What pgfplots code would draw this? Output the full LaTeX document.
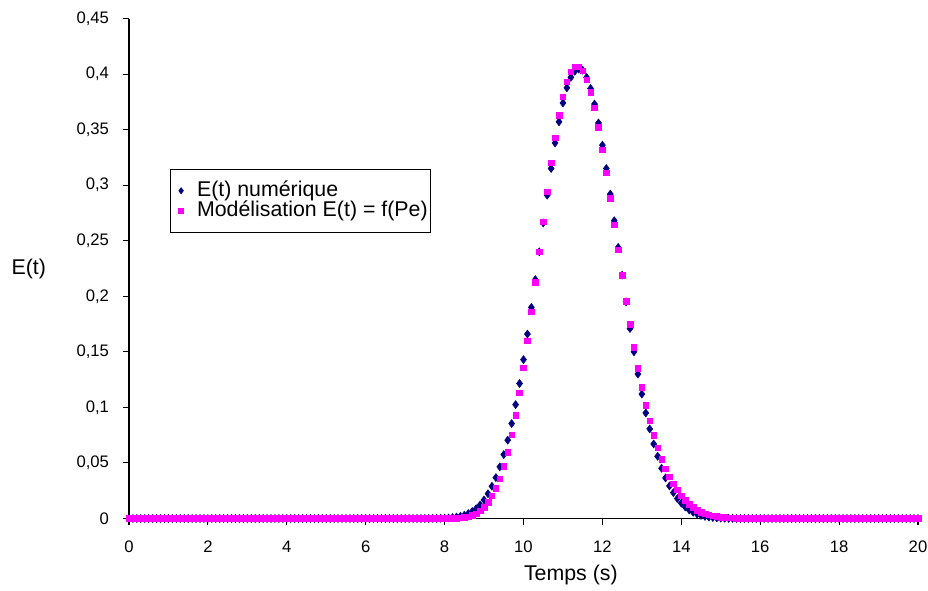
\documentclass[border=0pt]{standalone}
\usepackage{pgfplots}
\usepackage{pgfplotstable}
\usepackage{fontspec}
\setmainfont{Liberation Sans}
\pgfplotsset{compat=1.18}
\definecolor{navy}{RGB}{0,0,128}
\definecolor{mag}{RGB}{255,0,255}
\pgfplotstableread{
t num mod
0.0 0 0
0.1 0 0
0.2 0 0
0.3 0 0
0.4 0 0
0.5 0 0
0.6 0 0
0.7 0 0
0.8 0 0
0.9 0 0
1.0 0 0
1.1 0 0
1.2 0 0
1.3 0 0
1.4 0 0
1.5 0 0
1.6 0 0
1.7 0 0
1.8 0 0
1.9 0 0
2.0 0 0
2.1 0 0
2.2 0 0
2.3 0 0
2.4 0 0
2.5 0 0
2.6 0 0
2.7 0 0
2.8 0 0
2.9 0 0
3.0 0 0
3.1 0 0
3.2 0 0
3.3 0 0
3.4 0 0
3.5 0 0
3.6 0 0
3.7 0 0
3.8 0 0
3.9 0 0
4.0 0 0
4.1 0 0
4.2 0 0
4.3 0 0
4.4 0 0
4.5 0 0
4.6 0 0
4.7 0 0
4.8 0 0
4.9 0 0
5.0 0 0
5.1 0 0
5.2 0 0
5.3 0 0
5.4 0 0
5.5 0 0
5.6 0 0
5.7 0 0
5.8 0 0
5.9 0 0
6.0 0 0
6.1 0 0
6.2 0 0
6.3 0 0
6.4 0 0
6.5 0 0
6.6 0 0
6.7 0 0
6.8 0 0
6.9 0 0
7.0 0 0
7.1 0 0
7.2 0 0
7.3 0 0
7.4 0 0
7.5 0 0
7.6 0 0
7.7 0.0001 0
7.8 0.0001 0
7.9 0.0002 0
8.0 0.0003 0
8.1 0.0005 0.0001
8.2 0.0008 0.0001
8.3 0.0013 0.0003
8.4 0.0020 0.0005
8.5 0.0030 0.0009
8.6 0.0044 0.0016
8.7 0.0063 0.0027
8.8 0.0088 0.0044
8.9 0.0122 0.0068
9.0 0.0167 0.0102
9.1 0.0223 0.0146
9.2 0.0290 0.0203
9.3 0.0368 0.0272
9.4 0.0465 0.0359
9.5 0.0575 0.0470
9.6 0.0705 0.0596
9.7 0.0855 0.0752
9.8 0.1025 0.0930
9.9 0.1215 0.1130
10.0 0.1430 0.1356
10.1 0.1660 0.1600
10.2 0.1900 0.1860
10.3 0.2150 0.2125
10.4 0.2400 0.2400
10.5 0.2660 0.2670
10.6 0.2910 0.2940
10.7 0.3150 0.3200
10.8 0.3380 0.3425
10.9 0.3570 0.3630
11.0 0.3740 0.3795
11.1 0.3876 0.3930
11.2 0.3970 0.4020
11.3 0.4025 0.4065
11.4 0.4045 0.4065
11.5 0.4035 0.4030
11.6 0.3970 0.3950
11.7 0.3870 0.3836
11.8 0.3730 0.3695
11.9 0.3560 0.3520
12.0 0.3360 0.3320
12.1 0.3150 0.3110
12.2 0.2920 0.2880
12.3 0.2680 0.2645
12.4 0.2440 0.2420
12.5 0.2190 0.2188
12.6 0.1950 0.1957
12.7 0.1710 0.1750
12.8 0.1500 0.1540
12.9 0.1300 0.1353
13.0 0.1120 0.1180
13.1 0.0950 0.1020
13.2 0.0806 0.0878
13.3 0.0671 0.0750
13.4 0.0560 0.0638
13.5 0.0452 0.0533
13.6 0.0365 0.0449
13.7 0.0293 0.0377
13.8 0.0233 0.0314
13.9 0.0180 0.0257
14.0 0.0138 0.0205
14.1 0.0104 0.0163
14.2 0.0077 0.0128
14.3 0.0056 0.0099
14.4 0.0040 0.0076
14.5 0.0028 0.0058
14.6 0.0019 0.0044
14.7 0.0013 0.0033
14.8 0.0009 0.0025
14.9 0.0006 0.0018
15.0 0.0004 0.0013
15.1 0.0002 0.0010
15.2 0.0001 0.0007
15.3 0.0001 0.0005
15.4 0 0.0004
15.5 0 0.0003
15.6 0 0.0002
15.7 0 0.0001
15.8 0 0.0001
15.9 0 0
16.0 0 0
16.1 0 0
16.2 0 0
16.3 0 0
16.4 0 0
16.5 0 0
16.6 0 0
16.7 0 0
16.8 0 0
16.9 0 0
17.0 0 0
17.1 0 0
17.2 0 0
17.3 0 0
17.4 0 0
17.5 0 0
17.6 0 0
17.7 0 0
17.8 0 0
17.9 0 0
18.0 0 0
18.1 0 0
18.2 0 0
18.3 0 0
18.4 0 0
18.5 0 0
18.6 0 0
18.7 0 0
18.8 0 0
18.9 0 0
19.0 0 0
19.1 0 0
19.2 0 0
19.3 0 0
19.4 0 0
19.5 0 0
19.6 0 0
19.7 0 0
19.8 0 0
19.9 0 0
20.0 0 0
}\data
\begin{document}
\begin{tikzpicture}
\path[use as bounding box] (-96.75pt,-53.625pt) rectangle (599.25pt,388.875pt);
\begin{axis}[
  at={(0,0)}, anchor=south west,
  scale only axis, width=591.75pt, height=375pt,
  xmin=0, xmax=20, ymin=0, ymax=0.45,
  xtick={0,2,4,6,8,10,12,14,16,18,20},
  ytick={0,0.05,0.1,0.15,0.2,0.25,0.3,0.35,0.4,0.45},
  axis lines*=left,
  axis line style={black, line width=1pt},
  tick align=outside, major tick length=4.5pt,
  tick style={black, line width=0.8pt},
  /pgf/number format/assume math mode=true,
  yticklabel style={/pgf/number format/fixed, /pgf/number format/use comma, /pgf/number format/precision=2, xshift=-7pt},
  ticklabel style={font=\fontsize{12.5}{15}\selectfont},
  xticklabel style={yshift=-9pt},
  label style={font=\fontsize{16}{19}\selectfont},
  xlabel={Temps (s)},
  ylabel={E(t)},
  xlabel style={at={(axis description cs:0.56,-0.113)}, anchor=center},
  ylabel style={rotate=-90, at={(axis description cs:-0.127,0.5)}, anchor=center},
  clip=false,
  legend style={at={(axis description cs:0.052,0.699)}, anchor=north west,
    draw=black, line width=0.6pt, font=\fontsize{16}{19}\selectfont,
    inner xsep=2pt, inner ysep=8.5pt, row sep=0pt,
    nodes={inner sep=0pt, text height=11.5pt, text depth=3.5pt}},
  legend cell align=left,
  legend image code/.code={\path[draw=none, fill=none] (0pt,-2pt) rectangle (18pt,2pt); \draw[#1] plot coordinates {(6pt,0pt)};},
]
\addplot[only marks, mark=diamond*, mark size=3pt, color=navy, forget plot] table[x=t, y=num] {\data};
\addplot[only marks, mark=square*, mark size=2.1pt, color=mag, forget plot] table[x=t, y=mod] {\data};
\addlegendimage{only marks, mark=diamond*, mark size=2.2pt, color=navy}
\addlegendimage{only marks, mark=square*, mark size=1.8pt, color=mag}
\legend{E(t) numérique, Modélisation E(t) = f(Pe)}
\end{axis}
\end{tikzpicture}
\end{document}
